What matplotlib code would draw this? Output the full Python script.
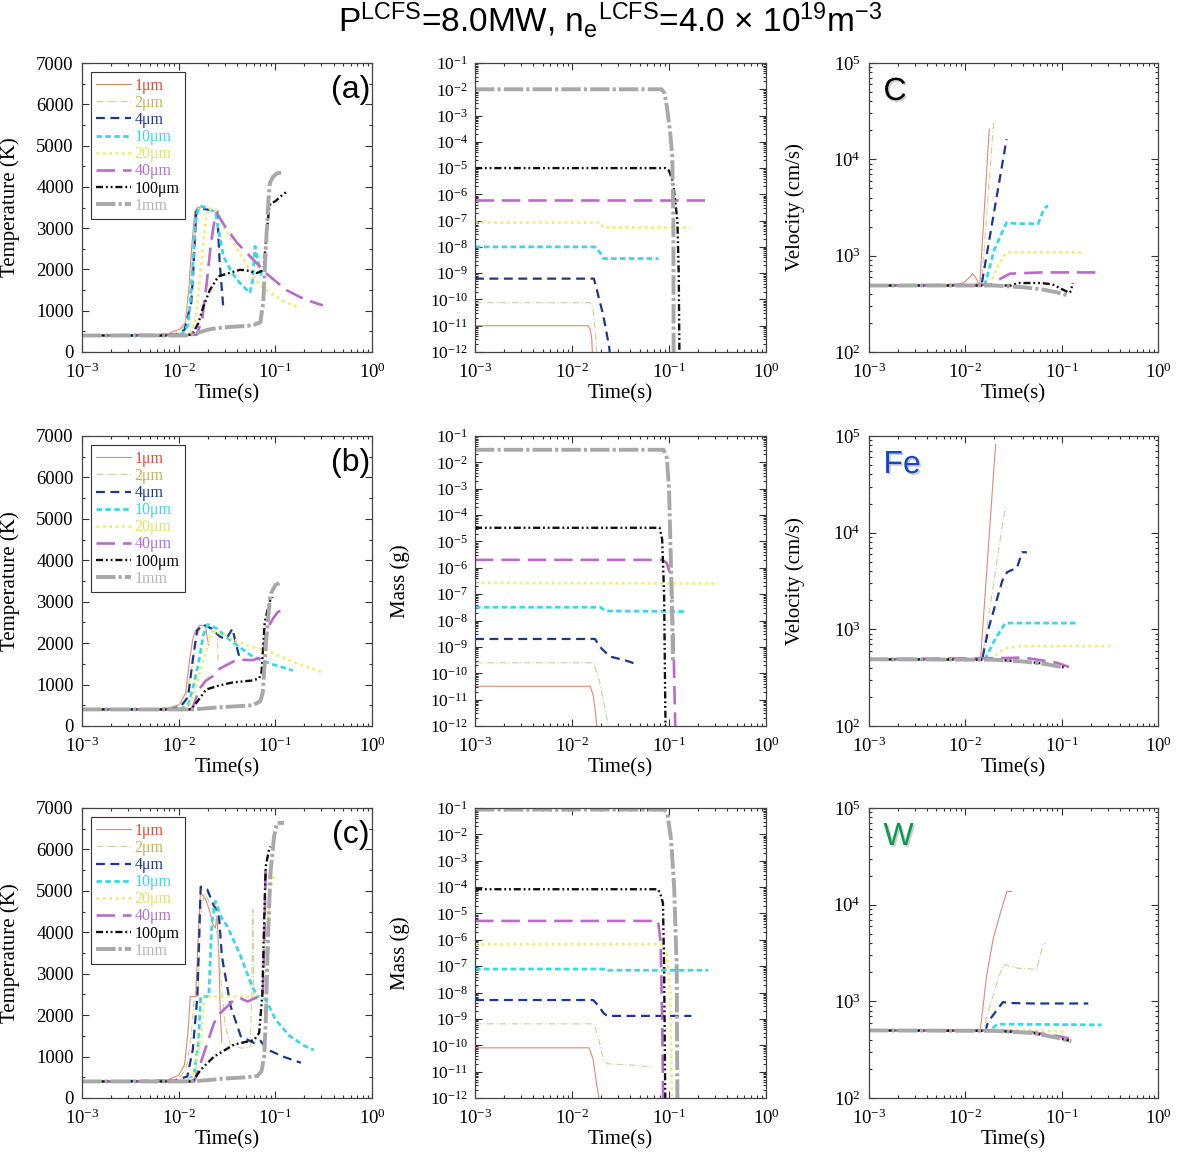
import numpy as np
import matplotlib
matplotlib.use("Agg")
import matplotlib.pyplot as plt
import matplotlib.patheffects as pe
from matplotlib.ticker import LogLocator, FixedLocator, MultipleLocator, NullFormatter

plt.rcParams.update({
    "font.family": "Liberation Serif",
    "mathtext.fontset": "custom",
    "mathtext.rm": "Liberation Serif",
    "font.size": 12,
})

# particle sizes (legend order)
sizes = ["1um", "2um", "4um", "10um", "20um", "40um", "100um", "1mm"]
size_labels = ["1μm", "2μm", "4μm", "10μm", "20μm", "40μm", "100μm", "1mm"]

# --- row (a): carbon ---
temp_a = {
    "1um": [(1e-3, 400), (0.005, 410), (0.008, 450), (0.0103, 560), (0.0117, 700), (0.0127, 1500),
            (0.0137, 2600), (0.0147, 3400), (0.0158, 3510), (0.0166, 3500)],
    "2um": [(1e-3, 400), (0.006, 410), (0.009, 450), (0.0115, 620), (0.013, 1500), (0.0145, 2700),
            (0.0158, 3400), (0.017, 3510), (0.019, 3480)],
    "4um": [(1e-3, 400), (0.007, 400), (0.0095, 430), (0.0115, 540), (0.0135, 1200), (0.0142, 2000),
            (0.0152, 3400), (0.0165, 3480), (0.021, 3440), (0.025, 3450), (0.0265, 2200), (0.029, 1050)],
    "10um": [(1e-3, 400), (0.009, 405), (0.011, 450), (0.0125, 650), (0.0137, 1670), (0.0148, 3100),
             (0.016, 3490), (0.0173, 3530), (0.02, 3480), (0.024, 3380), (0.029, 2320), (0.036, 1900),
             (0.043, 1670), (0.0545, 1430), (0.058, 1700), (0.0617, 2560), (0.067, 2150), (0.072, 1850)],
    "20um": [(1e-3, 400), (0.013, 420), (0.015, 800), (0.017, 2000), (0.019, 3200), (0.0205, 3480),
             (0.025, 3420), (0.03, 3000), (0.04, 2500), (0.069, 1620), (0.1, 1350), (0.13, 1200),
             (0.166, 1100)],
    "40um": [(1e-3, 400), (0.0154, 420), (0.0175, 800), (0.0195, 1670), (0.0215, 2600), (0.0235, 3200),
             (0.0247, 3370), (0.03, 3050), (0.04, 2650), (0.059, 2240), (0.081, 1900), (0.1, 1720),
             (0.13, 1500), (0.18, 1330), (0.25, 1200), (0.31, 1130)],
    "100um": [(1e-3, 400), (0.0125, 400), (0.014, 450), (0.016, 700), (0.018, 1100), (0.021, 1500),
              (0.0257, 1830), (0.03, 1880), (0.043, 1990), (0.05, 1980), (0.064, 1910), (0.072, 1960),
              (0.076, 2050), (0.08, 2700), (0.086, 3450), (0.089, 3600), (0.1, 3650), (0.115, 3780),
              (0.132, 3890)],
    "1mm": [(1e-3, 400), (0.0125, 400), (0.015, 450), (0.02, 540), (0.025, 580), (0.035, 610),
            (0.05, 630), (0.06, 660), (0.07, 720), (0.075, 1200), (0.08, 2600), (0.085, 3700),
            (0.088, 4100), (0.095, 4250), (0.105, 4330), (0.12, 4350)],
}
mass_a = {
    "1um": [(1e-3, 1e-11), (0.0147, 1e-11), (0.0155, 7e-12), (0.016, 3e-12), (0.0162, 1e-12)],
    "2um": [(1e-3, 7.5e-11), (0.0153, 7.5e-11), (0.0163, 5e-11), (0.0172, 1e-11), (0.018, 1e-12)],
    "4um": [(1e-3, 6.2e-10), (0.0168, 6.2e-10), (0.0178, 2.8e-10), (0.021, 2.5e-11), (0.024, 1.8e-12),
            (0.0245, 1e-12)],
    "10um": [(1e-3, 1e-8), (0.0173, 1e-8), (0.0195, 6e-9), (0.021, 3.6e-9), (0.078, 3.6e-9)],
    "20um": [(1e-3, 8.5e-8), (0.0195, 8.5e-8), (0.021, 5.5e-8), (0.166, 5.5e-8)],
    "40um": [(1e-3, 6.2e-7), (0.256, 6.2e-7)],
    "100um": [(1e-3, 1e-5), (0.0915, 1e-5), (0.1, 8e-6), (0.11, 3e-6), (0.122, 1e-7), (0.126, 1e-9),
              (0.128, 1e-12)],
    "1mm": [(1e-3, 1e-2), (0.084, 1e-2), (0.09, 7e-3), (0.0945, 2.5e-3), (0.1025, 2.5e-4), (0.108, 3e-5),
            (0.111, 1e-7), (0.1115, 1e-12)],
}
vel_c = {
    "1um": [(1e-3, 490), (0.0069, 490), (0.0095, 520), (0.0112, 600), (0.0119, 650), (0.0128, 590),
            (0.0141, 490), (0.0177, 2.06e4)],
    "2um": [(1e-3, 490), (0.0147, 490), (0.0197, 2.5e4)],
    "4um": [(1e-3, 490), (0.0147, 490), (0.0268, 1.62e4)],
    "10um": [(1e-3, 490), (0.0159, 490), (0.02, 1160), (0.0268, 2200), (0.035, 2150), (0.057, 2150),
             (0.065, 3000), (0.07, 3270), (0.072, 3200)],
    "20um": [(1e-3, 490), (0.018, 490), (0.022, 800), (0.0268, 1080), (0.16, 1080)],
    "40um": [(1e-3, 490), (0.019, 500), (0.022, 560), (0.029, 650), (0.06, 670), (0.269, 670)],
    "100um": [(1e-3, 490), (0.03, 490), (0.035, 520), (0.06, 520), (0.08, 505), (0.103, 444),
              (0.12, 411), (0.125, 430), (0.13, 520)],
    "1mm": [(1e-3, 490), (0.02, 490), (0.04, 470), (0.064, 445), (0.09, 415), (0.117, 385)],
}

# --- row (b): iron ---
temp_b = {
    "1um": [(1e-3, 400), (0.005, 410), (0.008, 440), (0.0102, 520), (0.0118, 800), (0.013, 1600),
            (0.014, 2100), (0.015, 2310), (0.0164, 2430), (0.019, 2420), (0.0195, 2200), (0.0205, 1950)],
    "2um": [(1e-3, 400), (0.006, 405), (0.009, 440), (0.0115, 600), (0.0135, 1300), (0.015, 2000),
            (0.0165, 2350), (0.019, 2430), (0.023, 2300), (0.025, 2200), (0.0255, 1600)],
    "4um": [(1e-3, 400), (0.008, 400), (0.0105, 470), (0.0125, 700), (0.014, 1600), (0.0155, 2300),
            (0.0178, 2450), (0.022, 2350), (0.027, 2150), (0.031, 2100), (0.034, 2250), (0.036, 2350),
            (0.039, 2000), (0.0426, 1650)],
    "10um": [(1e-3, 400), (0.01, 400), (0.0125, 500), (0.014, 900), (0.016, 1500), (0.018, 2200),
             (0.02, 2450), (0.025, 2350), (0.031, 2150), (0.04, 1950), (0.0585, 1670), (0.09, 1500),
             (0.152, 1340)],
    "20um": [(1e-3, 400), (0.011, 400), (0.013, 500), (0.015, 900), (0.018, 1600), (0.021, 2100),
             (0.0225, 2300), (0.03, 2200), (0.05, 1950), (0.08, 1830), (0.15, 1550), (0.31, 1300)],
    "40um": [(1e-3, 400), (0.013, 400), (0.014, 450), (0.0164, 900), (0.0192, 1100), (0.0225, 1200),
             (0.0264, 1380), (0.0363, 1550), (0.0426, 1600), (0.0585, 1590), (0.07, 1650), (0.0743, 1750),
             (0.0776, 2000), (0.08, 2300), (0.095, 2600), (0.106, 2750), (0.119, 2800)],
    "100um": [(1e-3, 400), (0.0135, 400), (0.0164, 660), (0.0192, 880), (0.0264, 980), (0.036, 1050),
              (0.0585, 1100), (0.068, 1150), (0.072, 1300), (0.0776, 2500), (0.087, 3000), (0.094, 3110)],
    "1mm": [(1e-3, 400), (0.014, 400), (0.026, 450), (0.0585, 500), (0.07, 600), (0.074, 800),
            (0.08, 2000), (0.088, 3100), (0.09, 3200), (0.1, 3400), (0.11, 3450)],
}
mass_b = {
    "1um": [(1e-3, 3.2e-11), (0.0154, 3.2e-11), (0.0165, 1.5e-11), (0.0175, 3e-12), (0.018, 1e-12)],
    "2um": [(1e-3, 2.5e-10), (0.0166, 2.5e-10), (0.019, 6e-11), (0.022, 4e-12), (0.0237, 1e-12)],
    "4um": [(1e-3, 2e-9), (0.0173, 2e-9), (0.019, 1.1e-9), (0.021, 7.5e-10), (0.0247, 4.3e-10),
            (0.0363, 3e-10), (0.0466, 2.2e-10)],
    "10um": [(1e-3, 3.2e-8), (0.0195, 3.2e-8), (0.0225, 2.3e-8), (0.147, 2.2e-8)],
    "20um": [(1e-3, 2.7e-7), (0.325, 2.5e-7)],
    "40um": [(1e-3, 2e-6), (0.086, 2e-6), (0.095, 1.5e-6), (0.1, 8e-7), (0.106, 5e-7), (0.11, 1e-8),
             (0.116, 1e-12)],
    "100um": [(1e-3, 3.3e-5), (0.08, 3.3e-5), (0.085, 1.2e-5), (0.089, 1e-7), (0.092, 1e-12)],
    "1mm": [(1e-3, 3e-2), (0.088, 3e-2), (0.095, 1.5e-2), (0.1, 1e-3), (0.105, 1e-6), (0.11, 2.5e-10)],
}
vel_fe = {
    "1um": [(1e-3, 490), (0.0144, 490), (0.0206, 8.2e4)],
    "2um": [(1e-3, 490), (0.0149, 490), (0.026, 1.87e4)],
    "4um": [(1e-3, 490), (0.015, 490), (0.0156, 600), (0.0175, 1040), (0.0242, 3190), (0.0271, 3900),
            (0.0344, 4340), (0.0388, 6270), (0.0436, 6270)],
    "10um": [(1e-3, 490), (0.016, 490), (0.0205, 800), (0.026, 1160), (0.15, 1160)],
    "20um": [(1e-3, 490), (0.0185, 490), (0.026, 640), (0.035, 670), (0.32, 670)],
    "40um": [(1e-3, 490), (0.026, 505), (0.04, 510), (0.06, 480), (0.09, 450), (0.119, 408)],
    "100um": [(1e-3, 490), (0.02, 485), (0.04, 465), (0.07, 440), (0.105, 405)],
    "1mm": [(1e-3, 490), (0.02, 485), (0.04, 465), (0.07, 435), (0.105, 403)],
}

# --- row (c): tungsten ---
temp_c = {
    "1um": [(1e-3, 400), (0.005, 410), (0.008, 450), (0.01, 550), (0.0115, 800), (0.0125, 1600),
            (0.0132, 2450), (0.015, 2450), (0.016, 4000), (0.0168, 4950), (0.019, 4800), (0.021, 4500),
            (0.0225, 4200), (0.024, 4100), (0.025, 4400), (0.026, 3500), (0.027, 2000), (0.028, 1350)],
    "2um": [(1e-3, 400), (0.007, 410), (0.01, 480), (0.012, 700), (0.0135, 1500), (0.0145, 2450),
            (0.0158, 2450), (0.017, 4500), (0.0185, 4950), (0.021, 4700), (0.024, 4400), (0.026, 3500),
            (0.03, 1800), (0.034, 1300), (0.045, 1200), (0.055, 1250), (0.057, 2450), (0.0585, 4550),
            (0.06, 2450), (0.07, 2450)],
    "4um": [(1e-3, 400), (0.009, 420), (0.0123, 520), (0.014, 1170), (0.0156, 2450), (0.0169, 5100),
            (0.0198, 5030), (0.023, 4650), (0.026, 4460), (0.028, 3420), (0.0345, 2210), (0.0439, 1490),
            (0.06, 1330), (0.07, 1380), (0.083, 1170), (0.12, 1000), (0.184, 850)],
    "10um": [(1e-3, 400), (0.0125, 410), (0.0145, 600), (0.016, 1330), (0.0169, 2450), (0.0205, 2450),
             (0.022, 4200), (0.024, 4750), (0.027, 4400), (0.0319, 4140), (0.0439, 3420), (0.0556, 2780),
             (0.065, 2450), (0.075, 2450), (0.083, 2290), (0.1, 1900), (0.14, 1500), (0.2, 1260),
             (0.25, 1160)],
    "20um": [(1e-3, 400), (0.013, 410), (0.015, 700), (0.017, 1500), (0.0183, 2450), (0.0734, 2450),
             (0.08, 3500), (0.088, 5000), (0.095, 5300), (0.1, 5430)],
    "40um": [(1e-3, 400), (0.0145, 400), (0.0169, 850), (0.0198, 1330), (0.0232, 1810), (0.027, 2050),
             (0.0374, 2370), (0.044, 2400), (0.052, 2330), (0.06, 2400), (0.074, 2450), (0.077, 3800),
             (0.0795, 5600)],
    "100um": [(1e-3, 400), (0.0139, 400), (0.0169, 680), (0.0232, 1000), (0.0374, 1290), (0.0603, 1400),
              (0.068, 1570), (0.0734, 2490), (0.0765, 4220), (0.0795, 5590), (0.086, 5990), (0.089, 6070)],
    "1mm": [(1e-3, 400), (0.013, 400), (0.02, 430), (0.03, 470), (0.05, 500), (0.065, 530), (0.072, 650),
            (0.0765, 1000), (0.0795, 1810), (0.084, 3900), (0.089, 5430), (0.097, 6310), (0.104, 6640),
            (0.123, 6640)],
}
mass_c = {
    "1um": [(1e-3, 8e-11), (0.015, 8e-11), (0.0165, 3e-11), (0.018, 3e-12), (0.019, 1e-12)],
    "2um": [(1e-3, 6.5e-10), (0.0169, 6.5e-10), (0.019, 1.5e-10), (0.021, 3e-11), (0.023, 2e-11),
            (0.05, 1.7e-11), (0.065, 1.5e-11)],
    "4um": [(1e-3, 5.2e-9), (0.0165, 5.2e-9), (0.019, 3e-9), (0.021, 1.7e-9), (0.023, 1.3e-9),
            (0.17, 1.3e-9)],
    "10um": [(1e-3, 7.8e-8), (0.023, 7.8e-8), (0.0235, 7e-8), (0.254, 7e-8)],
    "20um": [(1e-3, 6.8e-7), (0.088, 6.8e-7), (0.095, 3e-7), (0.103, 1e-8), (0.107, 1e-12)],
    "40um": [(1e-3, 5.2e-6), (0.077, 5.2e-6), (0.079, 2.5e-6), (0.082, 8e-7), (0.085, 1e-9),
             (0.087, 1e-12)],
    "100um": [(1e-3, 8.3e-5), (0.077, 8.3e-5), (0.082, 5e-5), (0.0866, 2.5e-5), (0.089, 1e-7),
              (0.0915, 1e-12)],
    "1mm": [(1e-3, 8.7e-2), (0.09, 8.7e-2), (0.097, 5e-2), (0.105, 6.6e-3), (0.113, 1e-4), (0.12, 1e-7),
            (0.122, 1e-12)],
}
vel_w = {
    "1um": [(1e-3, 500), (0.0143, 500), (0.0155, 1000), (0.0166, 1820), (0.0194, 4370), (0.023, 8100),
            (0.027, 1.37e4), (0.0303, 1.37e4)],
    "2um": [(1e-3, 500), (0.0154, 500), (0.018, 900), (0.021, 1500), (0.0248, 2400), (0.035, 2200),
            (0.055, 2140), (0.0645, 3980), (0.068, 4000)],
    "4um": [(1e-3, 500), (0.0163, 500), (0.0168, 570), (0.018, 650), (0.021, 800), (0.0245, 980),
            (0.03, 960), (0.05, 950), (0.189, 950)],
    "10um": [(1e-3, 500), (0.018, 500), (0.0215, 580), (0.03, 580), (0.26, 570)],
    "20um": [(1e-3, 500), (0.02, 505), (0.03, 505), (0.06, 500), (0.113, 480)],
    "40um": [(1e-3, 500), (0.02, 500), (0.05, 480), (0.1, 430), (0.12, 410)],
    "100um": [(1e-3, 500), (0.02, 495), (0.05, 470), (0.09, 420), (0.126, 386)],
    "1mm": [(1e-3, 500), (0.02, 495), (0.05, 470), (0.09, 420), (0.126, 386)],
}

# axis decades
time_decades = [1e-3, 1e-2, 1e-1, 1e0]
mass_decades = [10.0 ** k for k in range(-12, 0)]
vel_decades = [1e2, 1e3, 1e4, 1e5]

line_colors = ["#dc8a76", "#cfcf98", "#1c3692", "#3ad6ec", "#eeee74", "#b86cc8", "#111111", "#a8a8a8"]
text_colors = ["#e8442e", "#bdb54e", "#1c3692", "#3ad6ec", "#e2e25c", "#b070d0", "#000000", "#b4b4b4"]
line_styles = ["-", (0, (6, 2, 1, 2)), (0, (4, 2.5)), (0, (2, 1.2)), (0, (1, 1.3)), (0, (7, 3)),
               (0, (3, 1.2, 0.8, 1.2, 0.8, 1.2)), (0, (5, 0.8, 0.8, 0.8))]
line_widths = [0.8, 0.8, 1.6, 2.0, 2.0, 1.9, 1.7, 2.8]


def style_axes(ax, kind):
    ax.set_xscale("log")
    ax.set_xlim(1e-3, 1)
    ax.xaxis.set_major_locator(FixedLocator(time_decades))
    ax.xaxis.set_minor_locator(LogLocator(base=10, subs=np.arange(2, 10) * 1.0, numticks=100))
    ax.xaxis.set_minor_formatter(NullFormatter())
    if kind == "temp":
        ax.set_ylim(0, 7000)
        ax.yaxis.set_major_locator(MultipleLocator(1000))
        ax.yaxis.set_minor_locator(MultipleLocator(500))
    else:
        ax.set_yscale("log")
        if kind == "mass":
            ax.set_ylim(1e-12, 1e-1)
            ax.yaxis.set_major_locator(FixedLocator(mass_decades))
        else:
            ax.set_ylim(1e2, 1e5)
            ax.yaxis.set_major_locator(FixedLocator(vel_decades))
        ax.yaxis.set_minor_locator(LogLocator(base=10, subs=np.arange(2, 10) * 1.0, numticks=200))
        ax.yaxis.set_minor_formatter(NullFormatter())
    ax.tick_params(which="both", direction="in", top=True, right=True, width=0.8, colors="#333333",
                   labelcolor="black")
    ax.tick_params(which="major", length=5, labelsize=13.5, pad=6)
    ax.tick_params(axis="x", which="major", pad=7.5)
    if kind == "mass":
        ax.tick_params(axis="y", which="major", labelsize=12.5, pad=5)
    ax.tick_params(which="minor", length=2.5)
    for s in ax.spines.values():
        s.set_color("#444444")
        s.set_linewidth(0.9)
    ax.set_xlabel("Time(s)", fontsize=15)
    ax.xaxis.set_label_coords(0.5, -0.11)


def draw(ax, data):
    for i, key in enumerate(sizes):
        pts = np.array(data[key], dtype=float)
        ax.plot(pts[:, 0], pts[:, 1], color=line_colors[i], ls=line_styles[i], lw=line_widths[i],
                label=size_labels[i])


def add_legend(ax):
    leg = ax.legend(loc="upper left", bbox_to_anchor=(0.03, 0.968), borderaxespad=0, fontsize=11.5,
                    frameon=True, fancybox=False, edgecolor="#333333", framealpha=1, labelspacing=0.07,
                    handlelength=2.2, handletextpad=0.2, borderpad=0.35)
    leg.get_frame().set_linewidth(0.8)
    for txt, c in zip(leg.get_texts(), text_colors):
        txt.set_color(c)


fig = plt.figure(figsize=(11.85, 11.53), dpi=100)
W, H = 1185.0, 1153.0
col_left = [82, 475, 869]
col_w = [290, 291, 289]
row_top = [63, 436, 808]
row_h = [289, 290, 290]

rows = [
    (temp_a, mass_a, vel_c, "(a)", "C", "black"),
    (temp_b, mass_b, vel_fe, "(b)", "Fe", "#1446c8"),
    (temp_c, mass_c, vel_w, "(c)", "W", "#0a9a50"),
]

for r, (tdat, mdat, vdat, plabel, elem, ecol) in enumerate(rows):
    axes = []
    for c in range(3):
        rect = [col_left[c] / W, 1 - (row_top[r] + row_h[r]) / H, col_w[c] / W, row_h[r] / H]
        axes.append(fig.add_axes(rect))
    ax_t, ax_m, ax_v = axes

    style_axes(ax_t, "temp")
    draw(ax_t, tdat)
    add_legend(ax_t)
    ax_t.set_ylabel("Temperature (K)", fontsize=15)
    ax_t.yaxis.set_label_coords(-0.215, 0.5)
    ax_t.text(0.993, 0.907, plabel, transform=ax_t.transAxes, ha="right", va="center",
              family="Liberation Sans", fontsize=23)

    style_axes(ax_m, "mass")
    draw(ax_m, mdat)
    if r > 0:
        ax_m.set_ylabel("Mass (g)", fontsize=15)
        ax_m.yaxis.set_label_coords(-0.225, 0.5)

    style_axes(ax_v, "vel")
    draw(ax_v, vdat)
    if r < 2:
        ax_v.set_ylabel("Velocity (cm/s)", fontsize=15)
        ax_v.yaxis.set_label_coords(-0.22, 0.5)
    ax_v.text(0.05, 0.90, elem, transform=ax_v.transAxes, ha="left", va="center",
              family="Liberation Sans", fontsize=23, color=ecol,
              path_effects=[pe.withSimplePatchShadow(offset=(1.2, -1.2), shadow_rgbFace="gray", alpha=0.4)])

title = (r"P$\mathdefault{^{LCFS}}$=8.0MW, n$\mathdefault{_{e}}$$\mathdefault{^{LCFS}}$"
         r"=4.0 × 10$\mathdefault{^{19}}$m$\mathdefault{^{-3}}$")
fig.text(0.515, 0.983, title, family="Liberation Sans", fontsize=24, ha="center", va="center")

fig.savefig("out.png", dpi=100)
